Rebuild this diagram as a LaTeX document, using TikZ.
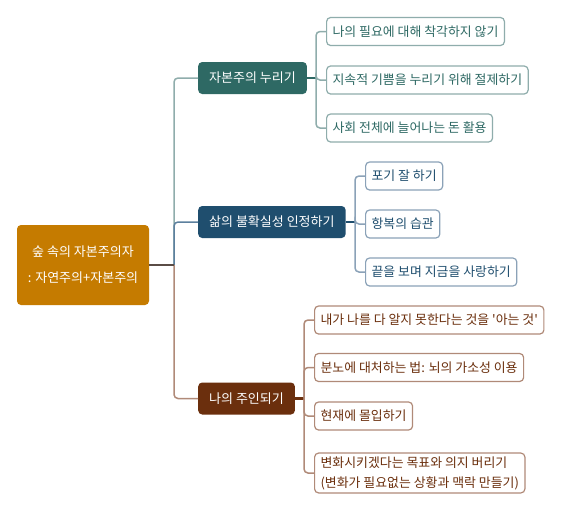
\documentclass[tikz,border=0pt]{standalone}
\usepackage{fontspec}
\setmainfont{Noto Sans CJK KR}
\usepackage{xcolor}
\usepackage{tikz}
\usetikzlibrary{positioning}
\definecolor{rootfill}{RGB}{197,123,0}
\definecolor{rootstub}{RGB}{90,76,70}
\definecolor{teal}{RGB}{46,105,100}
\definecolor{paleteal}{RGB}{143,173,172}
\definecolor{navy}{RGB}{31,78,110}
\definecolor{palenavy}{RGB}{139,162,184}
\definecolor{midnavy}{RGB}{92,128,158}
\definecolor{umber}{RGB}{107,47,13}
\definecolor{paleumber}{RGB}{176,138,120}

\begin{document}
\begin{tikzpicture}[x=1pt,y=-1pt,
  hub/.style={rounded corners=4pt,fill=rootfill,text=white,align=center,minimum width=132pt,minimum height=80pt,font=\fontsize{13}{26}\selectfont},
  topic/.style={rounded corners=4pt,text=white,minimum height=32pt,inner xsep=11pt,anchor=west,font=\fontsize{13}{15}\selectfont},
  leaf/.style={rounded corners=4pt,fill=white,line width=1.2pt,minimum height=28pt,inner xsep=6pt,anchor=west,align=left,font=\fontsize{12.9}{20}\selectfont},
  stub/.style={line width=2.4pt},
  lnk/.style={line width=1.5pt,rounded corners=4pt}]
\useasboundingbox (0,0) rectangle (561,514);
\fill[white] (0,0) rectangle (561,514);
% root
\node[hub] (r) at (83,265) {숲 속의 자본주의자\\: 자연주의+자본주의};
\coordinate (rh) at (174,265);
% branch 1
\node[topic,fill=teal] (t1) at (198,78) {자본주의 누리기};
\node[leaf,draw=paleteal,text=teal] (t1a) at (326,31.5) {나의 필요에 대해 착각하지 않기};
\node[leaf,draw=paleteal,text=teal] (t1b) at (326,80) {지속적 기쁨을 누리기 위해 절제하기};
\node[leaf,draw=paleteal,text=teal] (t1c) at (326,128) {사회 전체에 늘어나는 돈 활용};
\coordinate (h1) at (316,78);
\draw[lnk,paleteal] (rh) |- (t1.west);
\draw[stub,teal] (t1.east) -- (h1);
\draw[lnk,paleteal] (h1) |- (t1a.west);
\draw[lnk,paleteal] (h1) |- (t1b.west);
\draw[lnk,paleteal] (h1) |- (t1c.west);
% branch 2
\node[topic,fill=navy] (t2) at (198,222) {삶의 불확실성 인정하기};
\node[leaf,draw=palenavy,text=navy] (t2a) at (365,176) {포기 잘 하기};
\node[leaf,draw=palenavy,text=navy] (t2b) at (365,224) {항복의 습관};
\node[leaf,draw=palenavy,text=navy] (t2c) at (365,272) {끝을 보며 지금을 사랑하기};
\coordinate (h2) at (355,222);
\draw[lnk,midnavy] (rh) |- (t2.west);
\draw[stub,navy] (t2.east) -- (h2);
\draw[lnk,palenavy] (h2) |- (t2a.west);
\draw[lnk,palenavy] (h2) |- (t2b.west);
\draw[lnk,palenavy] (h2) |- (t2c.west);
% branch 3
\node[topic,fill=umber] (t3) at (198,398.5) {나의 주인되기};
\node[leaf,draw=paleumber,text=umber] (t3a) at (314,320) {내가 나를 다 알지 못한다는 것을 \textquotesingle 아는 것\textquotesingle};
\node[leaf,draw=paleumber,text=umber] (t3b) at (314,367.5) {분노에 대처하는 법: 뇌의 가소성 이용};
\node[leaf,draw=paleumber,text=umber] (t3c) at (314,416) {현재에 몰입하기};
\node[leaf,draw=paleumber,text=umber] (t3d) at (314,473) {변화시키겠다는 목표와 의지 버리기\\(변화가 필요없는 상황과 맥락 만들기)};
\coordinate (h3) at (304,398.5);
\draw[lnk,paleumber] (rh) |- (t3.west);
\draw[stub,umber] (t3.east) -- (h3);
\draw[lnk,paleumber] (h3) |- (t3a.west);
\draw[lnk,paleumber] (h3) |- (t3b.west);
\draw[lnk,paleumber] (h3) |- (t3c.west);
\draw[lnk,paleumber] (h3) |- (t3d.west);
% root stub
\draw[stub,rootstub,line width=2pt] (r.east) -- (rh);
\end{tikzpicture}
\end{document}
